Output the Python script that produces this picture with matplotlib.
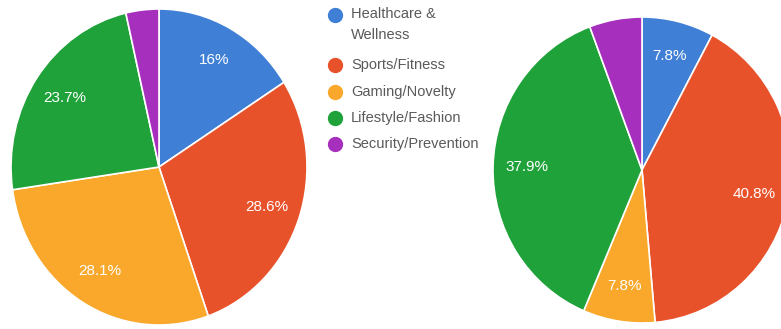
import matplotlib.pyplot as plt
from matplotlib.lines import Line2D

plt.rcParams["font.family"] = ["Liberation Sans", "DejaVu Sans"]

categories = ["Healthcare &\nWellness", "Sports/Fitness", "Gaming/Novelty",
              "Lifestyle/Fashion", "Security/Prevention"]
colors = ["#3f7fd6", "#e8522a", "#f9a82b", "#20a23a", "#a72fbd"]

left_pct = [16.0, 28.6, 28.1, 23.7, 3.6]
right_pct = [7.8, 40.8, 7.8, 37.9, 5.7]

W, H = 781, 329
fig = plt.figure(figsize=(W / 100, H / 100), dpi=100)


def px_axes(x0, y0, x1, y1):
    # box given in pixel coords measured from the top-left corner
    return fig.add_axes([x0 / W, 1 - y1 / H, (x1 - x0) / W, (y1 - y0) / H])


def draw_pie(ax, values):
    # small slices go unlabelled
    def fmt(p):
        return "" if p < 6 else f"{p:.1f}%".replace(".0%", "%")

    ax.pie(
        values, colors=colors, startangle=90, counterclock=False,
        autopct=fmt, pctdistance=0.77,
        wedgeprops=dict(edgecolor="white", linewidth=1.2),
        textprops=dict(color="white", fontsize=11),
    )
    ax.set_aspect("auto")
    ax.set_xlim(-1, 1)
    ax.set_ylim(-1, 1)
    ax.axis("off")


draw_pie(px_axes(11, 9, 307, 325), left_pct)
draw_pie(px_axes(493, 17, 791, 323), right_pct)

# legend between the two pies
leg = px_axes(320, 0, 500, 160)
leg.set_xlim(0, 180)
leg.set_ylim(160, 0)
leg.axis("off")
rows = [15, 65, 92, 118, 144]
for label, col, y in zip(categories, colors, rows):
    leg.add_line(Line2D([15], [y], marker="o", markersize=10,
                        color=col, linestyle="none"))
    if "\n" in label:
        # first line of the two-line entry sits level with its marker
        leg.text(31, y - 8, label, color="#5a5a5a", fontsize=10.5,
                 va="top", linespacing=1.65)
    else:
        leg.text(31, y, label, color="#5a5a5a", fontsize=10.5, va="center")

fig.savefig("out.png", dpi=100)
